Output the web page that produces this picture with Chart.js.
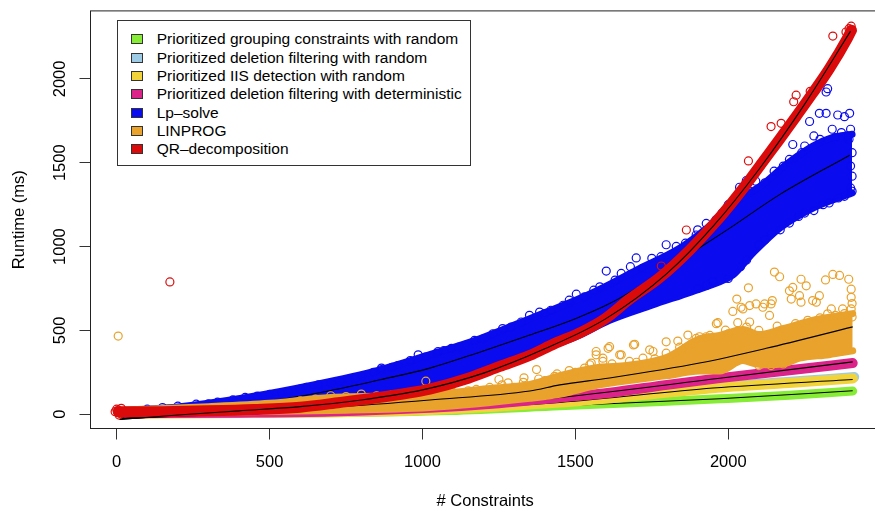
<!DOCTYPE html>
<html><head><meta charset="utf-8">
<script src="https://cdn.jsdelivr.net/npm/chart.js@4.4.0/dist/chart.umd.min.js"></script>
<style>
html,body{margin:0;padding:0;background:#fff;overflow:hidden;}
#wrap{position:relative;width:875px;height:512px;overflow:hidden;}
#c{position:absolute;left:0;top:0;}
#legend{position:absolute;left:117px;top:20px;width:354px;height:146px;border:1px solid #333;background:#fff;font-family:"Liberation Sans",Arial,Helvetica,sans-serif;font-size:15.5px;color:#000;box-sizing:border-box;}
.item{position:absolute;left:12.7px;height:18px;line-height:18px;white-space:nowrap;}
.sw{position:absolute;left:0;top:4px;width:10px;height:8px;border:1px solid #333;}
.tx{position:absolute;left:26px;top:0;}
</style></head>
<body>
<div id="wrap"><canvas id="c" width="885" height="512" style="width:885px;height:512px"></canvas><div id="legend"></div></div>
<script>
// ---- categories / labels ----
const seriesNames = [
  "Prioritized grouping constraints with random",
  "Prioritized deletion filtering with random",
  "Prioritized IIS detection with random",
  "Prioritized deletion filtering with deterministic",
  "Lp\u2013solve",
  "LINPROG",
  "QR\u2013decomposition"
];
const xTicks = [0, 500, 1000, 1500, 2000];
const yTicks = [0, 500, 1000, 1500, 2000];

// ---- series values (x = # constraints, y = runtime ms) ----
const greenBand = [[15,3],[300,5],[700,9],[1089,22],[1449,50],[1700,70],[1972,92],[2200,113],[2407,138]];
const greenFit = [[15,-20],[500,2],[1000,20],[1449,50],[1972,92],[2407,140]];

const lightblueBand = [[15,5],[300,7],[700,13],[1024,28],[1449,74],[1700,117],[1950,162],[2200,193],[2412,222]];
const lightblueFit = [[15,-22],[500,4],[1024,29],[1449,72],[1950,158],[2407,210]];

const yellowBand = [[15,4],[300,6],[700,11],[1024,25],[1449,69],[1700,110],[1950,155],[2200,186],[2407,213]];
const yellowFit = [[15,-22],[500,3],[1024,28],[1449,70],[1950,156],[2407,207]];

const pinkBand = [[30,6],[400,9],[700,16],[1024,38],[1250,65],[1449,100],[1612,128],[1800,175],[1972,215],[2200,262],[2407,305]];
const pinkFit = [[15,-25],[500,8],[1024,40],[1449,100],[1972,214],[2407,312]];

const blueUpper = [[20,22],[207,45],[424,100],[643,175],[861,265],[1024,355],[1187,450],[1351,570],[1514,690],[1612,775],[1700,860],[1841,990],[1930,1110],[2037,1280],[2112,1370],[2189,1490],[2277,1600],[2340,1650],[2405,1670]];
const blueLower = [[20,8],[300,20],[700,60],[1024,175],[1200,265],[1351,365],[1500,460],[1612,560],[1750,650],[1880,730],[1972,790],[2015,830],[2080,960],[2168,1110],[2277,1230],[2405,1320]];
const blueFit = [[10,-30],[200,15],[490,75],[697,140],[861,205],[1024,275],[1187,370],[1351,472],[1500,570],[1612,660],[1744,800],[1870,950],[2005,1110],[2168,1310],[2397,1545]];
const blueDots = [[100,30],[150,40],[200,48],[260,60],[300,62],[330,72],[380,85],[420,100],[460,108],[500,118],[540,128],[560,135],[600,150],[620,160],[660,175],[700,185],[730,195],[760,205],[780,215],[801,226],[840,250],[866,266],[866,275],[900,280],[920,290],[960,320],[986,354],[1010,340],[1046,364],[1051,374],[1070,380],[1095,393],[1120,400],[1140,410],[1170,440],[1200,450],[1230,480],[1262,511],[1290,520],[1323,550],[1350,590],[1383,609],[1400,600],[1420,620],[1460,650],[1480,680],[1503,716],[1530,700],[1560,740],[1580,760],[1601,854],[1630,800],[1650,840],[1680,880],[1699,932],[1720,870],[1750,930],[1780,940],[1797,1011],[1830,1001],[1860,1020],[1895,1069],[1900,1100],[1928,1138],[1960,1160],[1980,1200],[2000,1250],[2020,1280],[2037,1354],[2059,1393],[2070,1330],[2090,1390],[2120,1380],[2140,1079],[2150,1450],[2180,1480],[2200,1520],[2211,1609],[2240,1560],[2250,1600],[2266,1746],[2280,1660],[2298,1795],[2300,1640],[2320,1795],[2320,1922],[2325,1942],[2340,1700],[2350,1650],[2358,1785],[2370,1680],[2380,1775],[2390,1660],[2397,1795],[2400,1700],[2395,1640],[2405,1560],[2400,1480],[2405,1420],[2400,1350],[2405,1330],[2380,1300],[2360,1290],[2330,1260],[2310,1250],[2280,1215],[2250,1200],[2230,1180],[2200,1140],[2170,1100],[2120,1040],[2100,1010],[2060,920],[2040,880],[2000,810],[1950,790],[1930,770],[1900,750]];

const orangeUpper = [[20,25],[300,45],[500,65],[700,100],[1024,115],[1200,150],[1351,178],[1449,230],[1579,280],[1667,290],[1800,340],[1906,450],[1972,470],[2048,505],[2102,475],[2178,510],[2288,565],[2407,600]];
const orangeLower = [[20,8],[300,12],[700,22],[1024,40],[1351,95],[1449,119],[1579,175],[1800,230],[1906,258],[1972,258],[2048,320],[2090,300],[2124,295],[2178,300],[2233,334],[2330,355],[2407,378]];
const orangeFit = [[10,-30],[300,0],[697,40],[1024,85],[1351,138],[1449,175],[1612,216],[1906,305],[2124,393],[2407,521]];
const orangeDots = [[5,466],[600,80],[650,90],[700,110],[750,105],[800,120],[850,110],[900,115],[950,118],[1011,197],[1050,125],[1100,130],[1150,140],[1176,148],[1220,160],[1250,207],[1260,175],[1280,187],[1300,160],[1330,190],[1332,217],[1373,266],[1380,210],[1400,200],[1432,226],[1440,240],[1471,226],[1480,260],[1500,250],[1530,275],[1547,295],[1552,305],[1568,354],[1568,374],[1590,315],[1590,334],[1607,393],[1612,403],[1620,300],[1645,354],[1650,354],[1677,315],[1690,413],[1694,417],[1700,310],[1721,334],[1743,384],[1754,374],[1760,330],[1797,364],[1797,432],[1835,436],[1841,400],[1850,380],[1868,472],[1880,420],[1895,452],[1906,462],[1928,462],[1940,470],[1961,540],[1966,546],[1991,501],[2000,480],[2015,613],[2028,687],[2031,546],[2042,638],[2048,628],[2060,520],[2066,754],[2070,550],[2070,648],[2091,658],[2100,500],[2100,290],[2113,638],[2119,658],[2135,589],[2140,658],[2140,290],[2144,678],[2151,848],[2160,525],[2168,820],[2180,300],[2200,736],[2206,687],[2211,756],[2220,540],[2233,707],[2238,668],[2238,805],[2255,766],[2260,560],[2276,678],[2288,668],[2298,707],[2300,575],[2318,801],[2325,599],[2337,628],[2342,834],[2350,590],[2364,828],[2374,628],[2380,600],[2394,805],[2402,746],[2402,697],[2402,628],[2405,660],[2405,580]];

const redBand = [[5,14],[150,15],[300,20],[450,28],[600,42],[730,70],[850,98],[950,125],[1024,150],[1150,215],[1253,285],[1350,350],[1432,421],[1520,490],[1596,568],[1677,686],[1776,815],[1874,979],[1949,1126],[2004,1244],[2060,1374],[2112,1503],[2167,1638],[2223,1779],[2276,1915],[2331,2062],[2390,2244],[2403,2291]];
const redFit = [[10,-32],[200,-5],[400,20],[600,45],[800,85],[1000,145],[1200,245],[1400,390],[1600,570],[1800,840],[1950,1120],[2100,1460],[2250,1850],[2400,2285]];
const redDots = [[0,30],[-5,15],[15,35],[8,-5],[5,25],[10,5],[174,789],[1781,884],[1863,1099],[2066,1511],[2140,1716],[2173,1735],[2214,1864],[2222,1903],[2268,1926],[2342,2256],[2402,2315],[2395,2300],[2385,2280]];

// ---- styles ----
const COLORS = ["#86ec35", "#9dcbe6", "#f2d43a", "#dc2389", "#0b0bef", "#e9a22c", "#dc0b0b"];
const FONT = '"Liberation Sans", Arial, Helvetica, sans-serif';

function band(data, color, width, order) {
  return {data, borderColor: color, borderWidth: width, pointRadius: 0, fill: false, order,
    cubicInterpolationMode: 'monotone', borderCapStyle: 'round', borderJoinStyle: 'round'};
}
function fitLine(data, order) {
  return {data, borderColor: '#000', borderWidth: 1.1, pointRadius: 0, fill: false, order, cubicInterpolationMode: 'monotone'};
}
function dots(data, color, order) {
  return {data, showLine: false, pointRadius: 4, pointBorderWidth: 1.2, pointBorderColor: color,
    pointBackgroundColor: 'rgba(0,0,0,0)', borderColor: color, order};
}
function areaUpper(data, color, order) {
  return {data, borderColor: color, backgroundColor: color, borderWidth: 7, pointRadius: 0, fill: '+1', order,
    cubicInterpolationMode: 'monotone', borderJoinStyle: 'round', borderCapStyle: 'round'};
}

const datasets = [
  fitLine(redFit, 0), band(redBand, COLORS[6], 11, 1), dots(redDots, COLORS[6], 1),
  fitLine(orangeFit, 2), dots(orangeDots, COLORS[5], 3),
  areaUpper(orangeUpper, COLORS[5], 4), band(orangeLower, COLORS[5], 7, 4),
  fitLine(blueFit, 5), dots(blueDots, COLORS[4], 6),
  areaUpper(blueUpper, COLORS[4], 7), band(blueLower, COLORS[4], 7, 7),
  fitLine(pinkFit, 8), band(pinkBand, COLORS[3], 10, 9),
  fitLine(yellowFit, 10), band(yellowBand, COLORS[2], 10, 11),
  fitLine(lightblueFit, 12), band(lightblueBand, COLORS[1], 10, 13),
  fitLine(greenFit, 14), band(greenBand, COLORS[0], 9, 15)
];

const frame = {id: 'frame', afterDatasetsDraw(chart) {
  const {ctx, chartArea: a} = chart;
  ctx.save(); ctx.strokeStyle = '#222'; ctx.lineWidth = 1;
  ctx.strokeRect(a.left, a.top, a.right - a.left, a.bottom - a.top);
  ctx.restore();
}};

new Chart(document.getElementById('c'), {
  type: 'line',
  data: {datasets},
  plugins: [frame],
  options: {
    responsive: false, animation: false, devicePixelRatio: 1, events: [],
    layout: {padding: {left: 0, top: 4.5, right: 5, bottom: 0}},
    plugins: {legend: {display: false}, tooltip: {enabled: false}},
    scales: {
      x: {type: 'linear', min: -85.6, max: 2495.6,
        afterBuildTicks: s => { s.ticks = xTicks.map(v => ({value: v})); },
        afterFit: s => { s.height = 83.5; },
        grid: {display: true, drawOnChartArea: false, drawTicks: true, tickLength: 11, color: '#333', lineWidth: 1},
        border: {display: false},
        ticks: {color: '#000', font: {size: 16.5, family: FONT}, padding: 13, maxRotation: 0, autoSkip: false, callback: v => String(v)},
        title: {display: true, text: '# Constraints', color: '#000', font: {size: 16.5, family: FONT}, padding: {top: 0, bottom: 1}}
      },
      y: {type: 'linear', min: -85.3, max: 2405.9,
        afterBuildTicks: s => { s.ticks = yTicks.map(v => ({value: v})); },
        afterFit: s => { s.width = 90.5; },
        grid: {display: true, drawOnChartArea: false, drawTicks: true, tickLength: 11, color: '#333', lineWidth: 1},
        border: {display: false},
        ticks: {color: '#000', font: {size: 16.5, family: FONT}, padding: 1, minRotation: 90, maxRotation: 90, crossAlign: 'center', autoSkip: false, callback: v => String(v)},
        title: {display: true, text: 'Runtime (ms)', color: '#000', font: {size: 16.5, family: FONT}, padding: {top: 10, bottom: 0}}
      }
    }
  }
});

// legend (HTML, from the series names / colours)
const lg = document.getElementById('legend');
const rowCenters = [18.3, 36.7, 55, 73.3, 91.7, 110, 128];
seriesNames.forEach((n, i) => {
  const d = document.createElement('div');
  d.className = 'item'; d.style.top = (rowCenters[i] - 9) + 'px';
  d.innerHTML = '<span class="sw" style="background:' + COLORS[i] + '"></span><span class="tx"></span>';
  d.querySelector('.tx').textContent = n;
  lg.appendChild(d);
});
</script>
</body></html>
